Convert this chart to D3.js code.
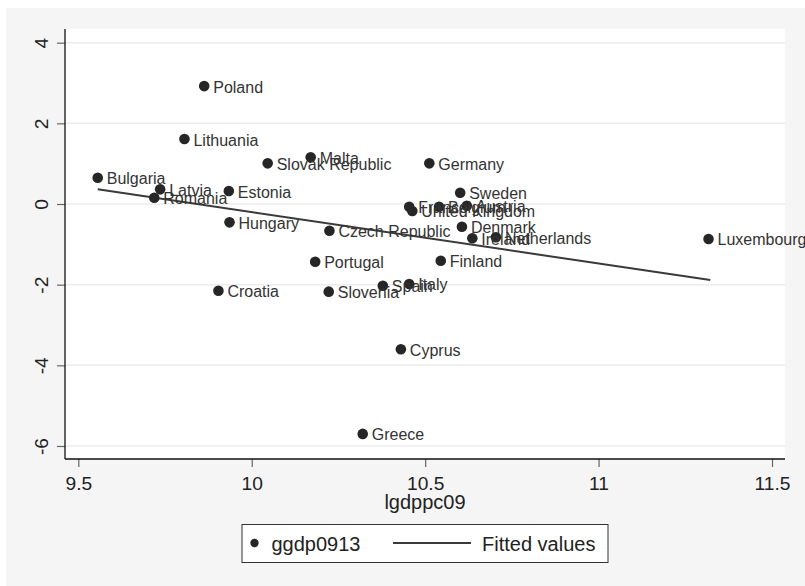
<!DOCTYPE html>
<html>
<head>
<meta charset="utf-8">
<script src="https://cdn.jsdelivr.net/npm/d3@7"></script>
<style>
  html, body { margin: 0; padding: 0; background: #fff; }
  svg { display: block; font-family: "Liberation Sans", Arial, sans-serif; }
</style>
</head>
<body>
<svg id="chart"></svg>
<script>
// Country names and values
const countries = ['Bulgaria', 'Latvia', 'Romania', 'Lithuania', 'Poland', 'Estonia', 'Hungary', 'Croatia',
    'Slovak Republic', 'Malta', 'Czech Republic', 'Portugal', 'Slovenia', 'Spain', 'Italy', 'Cyprus', 'Greece',
    'Germany', 'France', 'United Kingdom', 'Belgium', 'Austria', 'Sweden', 'Denmark', 'Ireland', 'Netherlands',
    'Finland', 'Luxembourg'];
const lgdppc09 = [9.556, 9.736, 9.719, 9.806, 9.863, 9.934, 9.936, 9.904,
    10.046, 10.170, 10.224, 10.183, 10.222, 10.378, 10.454, 10.430, 10.320,
    10.512, 10.454, 10.463, 10.540, 10.620, 10.601, 10.606, 10.636, 10.704,
    10.545, 11.317];
const ggdp0913 = [0.652, 0.364, 0.156, 1.611, 2.924, 0.322, -0.454, -2.149,
    1.009, 1.157, -0.662, -1.430, -2.173, -2.025, -1.983, -3.601, -5.700,
    1.009, -0.067, -0.173, -0.067, -0.042, 0.280, -0.563, -0.850, -0.825,
    -1.405, -0.867];

// Fitted line end points
const fittedX = [9.556, 11.322];
const fittedY = [0.364, -1.884];

const xTicks = [9.5, 10, 10.5, 11, 11.5];
const yTicks = [-6, -4, -2, 0, 2, 4];

const width = 805;
const height = 586;
const plot = { left: 65, right: 785, top: 29, bottom: 459 };

const svg = d3.select('#chart').attr('width', width).attr('height', height);

// Outer background
svg.append('rect').attr('x', 6).attr('y', 8).attr('width', width - 6).attr('height', height - 8).attr('fill', '#f5f5f5');
svg.append('rect')
    .attr('x', plot.left).attr('y', plot.top)
    .attr('width', plot.right - plot.left).attr('height', plot.bottom - plot.top)
    .attr('fill', '#fff');

// Scales
const xScale = d3.scaleLinear().domain([9.5, 11.5]).range([78.3, 772]);
const yScale = d3.scaleLinear().domain([-6, 4]).range([446, 42.7]);

// Gridlines
svg.append('g')
    .selectAll('line')
    .data(yTicks)
    .enter()
    .append('line')
    .attr('x1', plot.left).attr('x2', plot.right)
    .attr('y1', (d) => yScale(d)).attr('y2', (d) => yScale(d))
    .attr('stroke', '#ececec').attr('stroke-width', 1.5);

// Y axis (plain hyphen minus, as in the reference)
const yAxis = svg.append('g')
    .attr('transform', `translate(${plot.left},0)`)
    .call(d3.axisLeft(yScale).tickValues(yTicks).tickSize(8).tickSizeOuter(0).tickFormat((d) => String(d)));
yAxis.select('.domain').remove();
yAxis.selectAll('.tick line').attr('stroke', '#666').attr('stroke-width', 1.2);
yAxis.selectAll('.tick text')
    .attr('x', 0).attr('y', 0).attr('dy', 0)
    .attr('transform', 'translate(-17,0) rotate(-90)')
    .style('text-anchor', 'middle')
    .style('font-size', '19.2px')
    .style('font-family', '"Liberation Sans", Arial, sans-serif')
    .attr('fill', '#222');

// X axis
const xAxis = svg.append('g')
    .attr('transform', `translate(0,${plot.bottom})`)
    .call(d3.axisBottom(xScale).tickValues(xTicks).tickSize(8).tickSizeOuter(0).tickFormat((d) => String(d)));
xAxis.select('.domain').remove();
xAxis.selectAll('.tick line').attr('stroke', '#666').attr('stroke-width', 1.2);
xAxis.selectAll('.tick text')
    .attr('y', 31).attr('dy', 0)
    .style('font-size', '19.2px')
    .style('font-family', '"Liberation Sans", Arial, sans-serif')
    .attr('fill', '#222');

// Axis lines
svg.append('line').attr('x1', plot.left).attr('x2', plot.left).attr('y1', plot.top).attr('y2', plot.bottom)
    .attr('stroke', '#111').attr('stroke-width', 1.3);
svg.append('line').attr('x1', plot.left).attr('x2', plot.right).attr('y1', plot.bottom).attr('y2', plot.bottom)
    .attr('stroke', '#111').attr('stroke-width', 1.3);

// X axis title
svg.append('text')
    .attr('x', (plot.left + plot.right) / 2)
    .attr('y', 509)
    .style('text-anchor', 'middle')
    .style('font-size', '20px')
    .attr('fill', '#222')
    .text('lgdppc09');

// Fitted line
const line = d3.line().x((d) => xScale(d[0])).y((d) => yScale(d[1]));
svg.append('path')
    .datum(fittedX.map((x, i) => [x, fittedY[i]]))
    .attr('d', line)
    .attr('fill', 'none')
    .attr('stroke', '#3a3a3a')
    .attr('stroke-width', 2);

// Points and labels
const points = countries.map((c, i) => ({ name: c, x: lgdppc09[i], y: ggdp0913[i] }));
const pts = svg.append('g');
pts.selectAll('circle')
    .data(points)
    .enter()
    .append('circle')
    .attr('cx', (d) => xScale(d.x))
    .attr('cy', (d) => yScale(d.y))
    .attr('r', 5.3)
    .attr('fill', '#262626');
pts.selectAll('text')
    .data(points)
    .enter()
    .append('text')
    .attr('x', (d) => xScale(d.x) + 9)
    .attr('y', (d) => yScale(d.y) + 6.5)
    .style('font-size', '16px')
    .attr('fill', '#333')
    .text((d) => d.name);

// Legend
const legend = svg.append('g');
legend.append('rect')
    .attr('x', 242).attr('y', 524.5).attr('width', 366).attr('height', 38)
    .attr('fill', '#fff').attr('stroke', '#333').attr('stroke-width', 1);
legend.append('circle').attr('cx', 254.5).attr('cy', 543).attr('r', 4.2).attr('fill', '#262626');
legend.append('text').attr('x', 271.5).attr('y', 550.5).style('font-size', '20px').attr('fill', '#222').text('ggdp0913');
legend.append('line').attr('x1', 393).attr('x2', 471).attr('y1', 543).attr('y2', 543)
    .attr('stroke', '#3a3a3a').attr('stroke-width', 2);
legend.append('text').attr('x', 482).attr('y', 550.5).style('font-size', '20px').attr('fill', '#222').text('Fitted values');
</script>
</body>
</html>
